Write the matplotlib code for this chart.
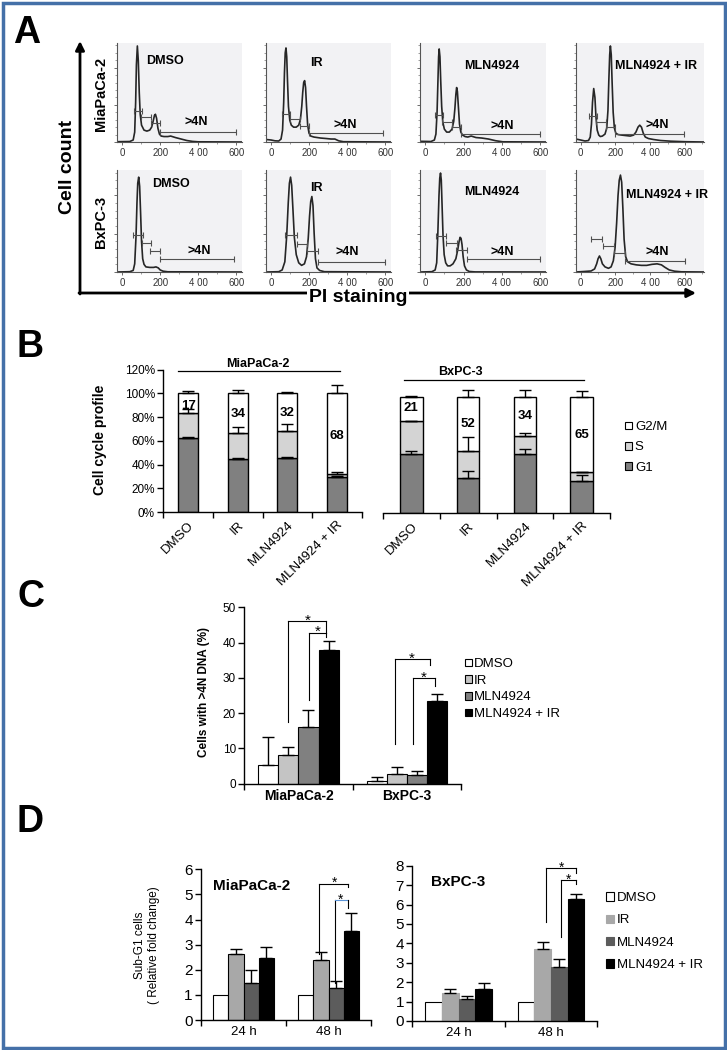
import numpy as np
import matplotlib
matplotlib.use("Agg")
import matplotlib.pyplot as plt
from matplotlib.patches import Patch, Rectangle
from matplotlib.ticker import MultipleLocator, FixedLocator

plt.rcParams['font.family'] = ['Liberation Sans', 'DejaVu Sans']

W, H = 727, 1050

# ---------------- A: PI histograms (count scaled 0-100) ----------------
treatments = ['DMSO', 'IR', 'MLN4924', 'MLN4924 + IR']
cell_lines = ['MiaPaCa-2', 'BxPC-3']
hist_ticks = [0, 200, 400, 600]
hist_ticklabels = ['0', '200', '4 00', '600']

mia_dmso_x = [-25, 40, 58, 66, 71, 75, 80, 85, 90, 95, 102, 115, 130, 145, 155, 163, 170, 175, 181, 188,
              196, 205, 220, 240, 255, 280, 310, 340, 370, 400, 630]
mia_dmso_y = [0.3, 0.5, 2, 10, 40, 78, 97, 82, 50, 28, 17, 12, 11, 12, 15, 21, 27, 28, 24, 14,
              8, 6, 5.5, 5.5, 6, 4.5, 3, 1.5, 0.6, 0.2, 0]
mia_ir_x = [-25, 0, 20, 40, 52, 60, 66, 70, 74, 78, 82, 86, 91, 98, 106, 118, 132, 145, 154, 161, 166,
            171, 176, 181, 186, 192, 199, 208, 225, 260, 290, 315, 335, 355, 380, 630]
mia_ir_y = [2.5, 2, 1.2, 1, 3, 12, 40, 70, 90, 95, 86, 62, 36, 22, 17, 15, 15, 17, 23, 36, 50,
            60, 62, 55, 36, 17, 9, 6, 5, 4, 3.5, 3, 3, 1.2, 0.3, 0]
mia_mln_x = [-25, 30, 48, 56, 62, 67, 70, 73, 77, 81, 86, 92, 100, 112, 126, 140, 149, 155, 160, 164,
             168, 173, 179, 186, 195, 208, 222, 240, 265, 295, 330, 367, 405, 630]
mia_mln_y = [0.7, 0.5, 2, 8, 30, 65, 86, 94, 86, 62, 36, 20, 13, 10, 10, 13, 21, 34, 48, 55,
             51, 36, 18, 10, 7, 5.5, 5, 6, 4.5, 4, 3, 1.3, 0.2, 0]
mia_combo_x = [-27, 0, 25, 45, 55, 62, 68, 75, 82, 88, 95, 104, 113, 125, 140, 150, 157, 162, 167, 171,
               176, 181, 187, 194, 202, 215, 235, 260, 285, 305, 318, 330, 340, 350, 360, 372, 390,
               420, 460, 520, 600, 710]
mia_combo_y = [3, 2, 1, 1.5, 5, 18, 40, 54, 45, 25, 12, 7, 5.5, 6, 8, 14, 32, 62, 88, 97,
               88, 60, 30, 14, 9, 7.5, 7, 6.5, 6, 7, 10, 15, 17, 15, 9, 5, 3.5,
               2.5, 1.5, 0.8, 0.3, 0]
bx_dmso_x = [-25, 40, 58, 66, 73, 78, 82, 87, 92, 97, 102, 108, 115, 125, 145, 165, 178, 190, 200, 215,
             240, 630]
bx_dmso_y = [0, 0.3, 1.5, 8, 35, 68, 87, 93, 84, 58, 30, 13, 7.5, 5, 4.5, 4.5, 5, 4, 2, 0.8,
             0.2, 0]
bx_ir_x = [-25, 40, 58, 72, 82, 90, 96, 102, 108, 115, 122, 132, 145, 160, 175, 186, 195, 202, 208, 214,
           220, 226, 233, 241, 255, 280, 630]
bx_ir_y = [0, 0.3, 2, 10, 36, 68, 87, 93, 85, 60, 34, 17, 9, 6.5, 8, 15, 33, 55, 69, 74,
           65, 38, 13, 4, 1.5, 0.3, 0]
bx_mln_x = [-25, 35, 52, 60, 66, 72, 76, 80, 84, 88, 93, 99, 107, 117, 130, 145, 160, 170, 177, 182,
            187, 192, 198, 205, 215, 230, 260, 630]
bx_mln_y = [0, 0.3, 2, 9, 38, 75, 92, 97, 90, 66, 36, 17, 9, 6, 6, 8, 13, 22, 30, 34,
            33, 27, 15, 6, 2, 0.5, 0.1, 0]
bx_combo_x = [-27, 20, 60, 80, 92, 100, 108, 116, 125, 140, 160, 175, 188, 198, 207, 215, 222, 229, 236,
              243, 250, 259, 270, 290, 320, 350, 380, 410, 440, 465, 485, 510, 540, 580, 710]
bx_combo_y = [0, 0.5, 1, 3, 8, 13, 15.7, 13, 8, 5, 3.6, 5, 11, 24, 48, 75, 90, 95, 88,
              62, 32, 15, 10, 8, 7, 6.5, 6.5, 7.5, 8, 7, 4.6, 2, 0.8, 0.2, 0]

# gates: (start, end, height) for G1, S, G2/M and >4N
mia_dmso_gates = [(61, 107, 31), (98, 152, 25), (152, 200, 19), (200, 598, 10.4)]
mia_ir_gates = [(56, 100, 28), (100, 150, 23), (150, 200, 16), (200, 590, 8.8)]
mia_mln_gates = [(51, 92, 27), (89, 142, 20.5), (138, 185, 15.5), (185, 600, 8)]
mia_combo_gates = [(46, 94, 26), (88, 146, 20), (146, 200, 15.5), (200, 594, 8)]
bx_dmso_gates = [(58, 108, 36), (103, 154, 28), (148, 199, 21), (199, 590, 13)]
bx_ir_gates = [(72, 138, 36), (138, 188, 27), (188, 246, 21), (246, 600, 10)]
bx_mln_gates = [(55, 109, 35), (109, 165, 28), (163, 217, 22), (217, 600, 12.5)]
bx_combo_gates = [(62, 123, 32), (127, 194, 25), (194, 258, 19), (258, 600, 11)]

hist_curves = {(0, 0): (mia_dmso_x, mia_dmso_y), (0, 1): (mia_ir_x, mia_ir_y),
               (0, 2): (mia_mln_x, mia_mln_y), (0, 3): (mia_combo_x, mia_combo_y),
               (1, 0): (bx_dmso_x, bx_dmso_y), (1, 1): (bx_ir_x, bx_ir_y),
               (1, 2): (bx_mln_x, bx_mln_y), (1, 3): (bx_combo_x, bx_combo_y)}
hist_gates = {(0, 0): mia_dmso_gates, (0, 1): mia_ir_gates, (0, 2): mia_mln_gates, (0, 3): mia_combo_gates,
              (1, 0): bx_dmso_gates, (1, 1): bx_ir_gates, (1, 2): bx_mln_gates, (1, 3): bx_combo_gates}

# ---------------- B: cell cycle profile (%) ----------------
b_groups = ['DMSO', 'IR', 'MLN4924', 'MLN4924 + IR']
mia_g1 = [62.2, 44.5, 45.4, 29.4]
mia_s = [21.0, 21.9, 22.9, 2.8]
mia_g2m = [16.8, 33.6, 31.7, 67.8]
mia_g1_err = [0.8, 1.2, 0.8, 1.4]
mia_s_err = [3.8, 5.6, 5.7, 1.7]
mia_g2m_err = [2.3, 3.1, 1.2, 7.3]
mia_g2m_text = ['17', '34', '32', '68']

bx_g1 = [50.4, 30.0, 50.4, 27.0]
bx_s = [27.2, 22.6, 14.6, 7.5]
bx_g2m = [20.9, 45.9, 33.5, 64.0]
bx_g1_err = [2.3, 5.8, 4.2, 5.0]
bx_s_err = [0.6, 11.8, 3.0, 0.6]
bx_g2m_err = [0.8, 5.5, 5.5, 4.5]
bx_g2m_text = ['21', '52', '34', '65']

# ---------------- C: cells with >4N DNA (%) ----------------
c_lines = ['MiaPaCa-2', 'BxPC-3']
c_dmso = [5.4, 0.75]
c_ir = [8.2, 2.8]
c_mln = [16.0, 2.5]
c_combo = [38.0, 23.4]
c_dmso_err = [7.8, 1.15]
c_ir_err = [2.2, 1.9]
c_mln_err = [4.8, 1.1]
c_combo_err = [2.4, 2.1]

# ---------------- D: sub-G1 cells (relative fold change) ----------------
d_times = ['24 h', '48 h']
d_mia_dmso = [1.0, 1.0]
d_mia_ir = [2.62, 2.38]
d_mia_mln = [1.47, 1.29]
d_mia_combo = [2.47, 3.55]
d_mia_ir_err = [0.21, 0.32]
d_mia_mln_err = [0.53, 0.28]
d_mia_combo_err = [0.43, 0.71]
d_bx_dmso = [1.0, 1.0]
d_bx_ir = [1.42, 3.69]
d_bx_mln = [1.13, 2.80]
d_bx_combo = [1.63, 6.27]
d_bx_ir_err = [0.21, 0.40]
d_bx_mln_err = [0.17, 0.38]
d_bx_combo_err = [0.31, 0.27]


def px_axes(fig, left, top, right, bottom):
    return fig.add_axes([left / W, 1 - bottom / H, (right - left) / W, (bottom - top) / H])


fig = plt.figure(figsize=(W / 100, H / 100), dpi=100)
ov = fig.add_axes([0, 0, 1, 1])
ov.set_xlim(0, W)
ov.set_ylim(H, 0)
ov.axis('off')
ov.add_patch(Rectangle((2.5, 2.5), W - 5, H - 5, fill=False, edgecolor='#4470a8', lw=2.5))

for letter, (lx, ly) in zip('ABCD', [(27, 33), (30, 347), (31, 597), (30, 822)]):
    ov.text(lx, ly, letter, fontsize=27, fontweight='bold', ha='center', va='center')

# ---- panel A ----
ov.annotate('', xy=(80, 41), xytext=(80, 294),
            arrowprops=dict(arrowstyle='-|>', lw=2, color='black', mutation_scale=13, shrinkA=0, shrinkB=0))
ov.annotate('', xy=(696, 293), xytext=(79, 293),
            arrowprops=dict(arrowstyle='-|>', lw=2, color='black', mutation_scale=13, shrinkA=0, shrinkB=0))
ov.text(67, 167, 'Cell count', rotation=90, fontsize=14, fontweight='bold', ha='center', va='center')
ov.text(358, 297, 'PI staining', fontsize=14, fontweight='bold', ha='center', va='center', zorder=5,
        bbox=dict(facecolor='white', edgecolor='none', pad=1.5))
ov.text(101, 94, cell_lines[0], rotation=90, fontsize=10.5, fontweight='bold', ha='center', va='center')
ov.text(101, 222, cell_lines[1], rotation=90, fontsize=10.5, fontweight='bold', ha='center', va='center')

hist_cols = [(117, 242), (266, 391), (420, 546), (576, 704)]
hist_rows = [(43, 142), (170, 272)]
title_xy = {(0, 0): (225, 82), (0, 1): (240, 80), (0, 2): (345, 77), (0, 3): (435, 77),
            (1, 0): (258, 86), (1, 1): (236, 82), (1, 2): (345, 78), (1, 3): (495, 75)}
n4_xy = {(0, 0): (388, 20), (0, 1): (391, 17), (0, 2): (400, 16), (0, 3): (440, 17),
         (1, 0): (406, 21), (1, 1): (402, 20), (1, 2): (404, 20), (1, 3): (440, 20)}

for r in range(2):
    for c in range(4):
        key = (r, c)
        ax = px_axes(fig, hist_cols[c][0], hist_rows[r][0], hist_cols[c][1], hist_rows[r][1])
        ax.set_facecolor('#f2f2f4')
        xs, ys = hist_curves[key]
        ax.plot(xs, ys, color='#262626', lw=1.2)
        for x0, x1, yg in hist_gates[key]:
            ax.errorbar((x0 + x1) / 2, yg, xerr=(x1 - x0) / 2, color='#505050', lw=0.8,
                        capsize=2, capthick=0.8)
        ax.text(*title_xy[key], treatments[c], fontsize=9, fontweight='bold', ha='center', va='center')
        ax.text(*n4_xy[key], '>4N', fontsize=9, fontweight='bold', ha='center', va='center')
        ax.set_xlim(-27, 710 if c == 3 else 630)
        ax.set_ylim(0, 100)
        for side in ('top', 'right'):
            ax.spines[side].set_visible(False)
        for side in ('left', 'bottom'):
            ax.spines[side].set_color('#555555')
            ax.spines[side].set_linewidth(0.8)
        ax.set_xticks(hist_ticks, hist_ticklabels, fontsize=7, color='#333333')
        ax.xaxis.set_minor_locator(MultipleLocator(100))
        ax.set_yticks([0, 37.5, 75], [])
        ax.yaxis.set_minor_locator(MultipleLocator(7.5))
        ax.tick_params(axis='both', which='major', length=2.5, width=0.6, color='#555555', pad=1.5)
        ax.tick_params(axis='both', which='minor', length=1.3, width=0.5, color='#777777')

# ---- panel B ----
G1_C, S_C = '#808080', '#d4d4d4'


def draw_cycle(ax, g1, s, g2m, g1_err, s_err, g2m_err, texts, text_y):
    x = np.arange(len(b_groups))
    s_bottom = np.array(g1)
    g2_bottom = s_bottom + np.array(s)
    top = g2_bottom + np.array(g2m)
    kw = dict(width=0.4, edgecolor='black', linewidth=1.0, zorder=2)
    ax.bar(x, g1, color=G1_C, **kw)
    ax.bar(x, s, bottom=s_bottom, color=S_C, **kw)
    ax.bar(x, g2m, bottom=g2_bottom, color='white', **kw)
    zeros = np.zeros(len(x))
    for y, e in ((s_bottom, g1_err), (g2_bottom, s_err), (top, g2m_err)):
        ax.errorbar(x, y, yerr=[zeros, e], fmt='none', ecolor='black', elinewidth=1.0,
                    capsize=4, capthick=1.0, zorder=3)
    for xi, t, ty in zip(x, texts, text_y):
        ax.text(xi, ty, t, fontsize=9.5, fontweight='bold', ha='center', va='center', zorder=4)
    ax.set_facecolor('none')
    ax.set_xlim(-0.5, 3.5)
    ax.set_ylim(0, 120)
    ax.set_xticks(x, b_groups, rotation=45, ha='right', rotation_mode='anchor', fontsize=9.5)
    ax.xaxis.set_minor_locator(FixedLocator([-0.5, 0.5, 1.5, 2.5, 3.5]))
    ax.tick_params(axis='x', which='major', length=0, pad=5)
    ax.tick_params(axis='x', which='minor', length=4, width=1)
    for side in ('top', 'right'):
        ax.spines[side].set_visible(False)
    ax.spines['bottom'].set_linewidth(1.0)


axb1 = px_axes(fig, 163.3, 369.5, 361.7, 512.3)
draw_cycle(axb1, mia_g1, mia_s, mia_g2m, mia_g1_err, mia_s_err, mia_g2m_err,
           mia_g2m_text, [89.4, 82.6, 83.8, 64])
axb1.set_yticks(np.arange(0, 121, 20), [f'{v}%' for v in range(0, 121, 20)], fontsize=8.5)
axb1.tick_params(axis='y', length=4, width=1, pad=2)
axb1.spines['left'].set_linewidth(1.0)
axb1.plot([-0.2, 3.06], [119, 119], color='black', lw=0.9, clip_on=False)
axb1.text(1.41, 124.6, cell_lines[0], fontsize=9, fontweight='bold', ha='center', va='center')

axb2 = px_axes(fig, 383, 371.3, 610, 513.3)
draw_cycle(axb2, bx_g1, bx_s, bx_g2m, bx_g1_err, bx_s_err, bx_g2m_err,
           bx_g2m_text, [88.7, 75.5, 82, 66])
axb2.spines['left'].set_visible(False)
axb2.set_yticks([])
axb2.plot([-0.13, 3.05], [112.9, 112.9], color='black', lw=0.9, clip_on=False)
axb2.text(0.87, 119.8, cell_lines[1], fontsize=9, fontweight='bold', ha='center', va='center')
axb2.legend(handles=[Patch(facecolor=fc, edgecolor='black', linewidth=0.8, label=lb)
                     for fc, lb in (('white', 'G2/M'), (S_C, 'S'), (G1_C, 'G1'))],
            loc='upper left', bbox_to_anchor=(625 / W, 1 - 421 / H), bbox_transform=fig.transFigure,
            frameon=False, fontsize=9.5, handlelength=0.5, handleheight=0.5, handletextpad=0.25,
            labelspacing=0.64, borderpad=0, borderaxespad=0)
ov.text(100, 440, 'Cell cycle profile', rotation=90, fontsize=10, fontweight='bold', ha='center', va='center')


# ---- grouped bar helper for C and D ----
def grouped(ax, series, errors, colors, edges, bw):
    x = np.arange(2)
    for k, (vals, errs, fc, ec) in enumerate(zip(series, errors, colors, edges)):
        pos = x + (k - 1.5) * bw
        ax.bar(pos, vals, width=bw, color=fc, edgecolor=ec, linewidth=0.8, zorder=2)
        errs = np.array(errs)
        m = errs > 0
        if m.any():
            ax.errorbar(pos[m], np.array(vals)[m], yerr=[np.zeros(m.sum()), errs[m]], fmt='none',
                        ecolor='black', elinewidth=1.0, capsize=4, capthick=1.0, zorder=3)
    ax.set_facecolor('none')
    ax.set_xlim(-0.5, 1.5)
    ax.xaxis.set_minor_locator(FixedLocator([-0.5, 0.5, 1.5]))
    ax.tick_params(axis='x', which='major', length=0, pad=4)
    ax.tick_params(axis='x', which='minor', length=4, width=1)
    ax.tick_params(axis='y', length=4, width=1, pad=2)
    for side in ('top', 'right'):
        ax.spines[side].set_visible(False)
    for side in ('left', 'bottom'):
        ax.spines[side].set_linewidth(1.0)


def brackets(ax, items, star_size, hcolors=None):
    for i, (xl, xr, yl, yt, yr, sx, sy) in enumerate(items):
        hc = hcolors[i] if hcolors else 'black'
        ax.plot([xl, xl], [yl, yt], color='black', lw=0.8, clip_on=False, zorder=4)
        ax.plot([xl, xr], [yt, yt], color=hc, lw=0.8, clip_on=False, zorder=4)
        ax.plot([xr, xr], [yt, yr], color='black', lw=0.8, clip_on=False, zorder=4)
        ax.text(sx, sy, '*', fontsize=star_size, ha='center', va='center', clip_on=False, zorder=4)


# ---- panel C ----
c_colors = ['white', '#c4c4c4', '#808080', 'black']
axc = px_axes(fig, 244.3, 607.2, 461, 783.8)
grouped(axc, [c_dmso, c_ir, c_mln, c_combo], [c_dmso_err, c_ir_err, c_mln_err, c_combo_err],
        c_colors, ['black'] * 4, 0.185)
axc.set_ylim(0, 50)
axc.set_yticks(range(0, 51, 10))
axc.tick_params(axis='y', labelsize=8.5)
axc.set_xticks([0, 1], c_lines, fontsize=10, fontweight='bold')
brackets(axc, [(-0.096, 0.255, 17.5, 46.2, 42.7, 0.081, 46.2),
               (0.096, 0.255, 23.6, 42.7, 41.5, 0.174, 42.9),
               (0.889, 1.21, 11.3, 35.4, 33.5, 1.045, 35.5),
               (1.054, 1.264, 11.3, 30.0, 27.8, 1.153, 30.1)], 11)
axc.legend(handles=[Patch(facecolor=fc, edgecolor='black', linewidth=0.8, label=lb)
                    for fc, lb in zip(c_colors, treatments)],
           loc='upper left', bbox_to_anchor=(465 / W, 1 - 658 / H), bbox_transform=fig.transFigure,
           frameon=False, fontsize=9.5, handlelength=0.5, handleheight=0.5, handletextpad=0.2,
           labelspacing=0.36, borderpad=0, borderaxespad=0)
ov.text(204, 692, 'Cells with >4N DNA (%)', rotation=90, fontsize=8.5, fontweight='bold',
        ha='center', va='center')

# ---- panel D ----
d_colors = ['white', '#a8a8a8', '#5c5c5c', 'black']
axd1 = px_axes(fig, 201, 869.3, 371, 1020)
grouped(axd1, [d_mia_dmso, d_mia_ir, d_mia_mln, d_mia_combo],
        [[0, 0], d_mia_ir_err, d_mia_mln_err, d_mia_combo_err], d_colors, ['black'] * 4, 0.18)
axd1.set_ylim(0, 6)
axd1.set_yticks(range(0, 7))
axd1.tick_params(axis='y', labelsize=11)
axd1.set_xticks([0, 1], d_times, fontsize=9.5)
brackets(axd1, [(0.89, 1.235, 2.63, 5.42, 5.29, 1.067, 5.45),
                (1.08, 1.227, 1.46, 4.78, 4.45, 1.145, 4.8)], 10, hcolors=['black', '#5b93d6'])
axd1.text(0.1, 5.35, cell_lines[0], fontsize=11, fontweight='bold', ha='center', va='center')

axd2 = px_axes(fig, 412.3, 865.7, 597.3, 1021)
grouped(axd2, [d_bx_dmso, d_bx_ir, d_bx_mln, d_bx_combo],
        [[0, 0], d_bx_ir_err, d_bx_mln_err, d_bx_combo_err], d_colors,
        ['black', '#a8a8a8', '#5c5c5c', 'black'], 0.18)
axd2.set_ylim(0, 8)
axd2.set_yticks(range(0, 9))
axd2.tick_params(axis='y', labelsize=11)
axd2.set_xticks([0, 1], d_times, fontsize=9.5)
brackets(axd2, [(0.944, 1.267, 5.12, 7.86, 7.6, 1.109, 7.9),
                (1.109, 1.267, 4.31, 7.26, 7.06, 1.188, 7.3)], 10)
axd2.text(0.0, 7.15, cell_lines[1], fontsize=11, fontweight='bold', ha='center', va='center')
axd2.legend(handles=[Patch(facecolor=fc, edgecolor=ec, linewidth=0.8, label=lb)
                     for fc, ec, lb in zip(d_colors, ['black', '#a8a8a8', '#5c5c5c', 'black'], treatments)],
            loc='upper left', bbox_to_anchor=(606 / W, 1 - 892 / H), bbox_transform=fig.transFigure,
            frameon=False, fontsize=9.5, handlelength=0.6, handleheight=0.6, handletextpad=0.2,
            labelspacing=0.79, borderpad=0, borderaxespad=0)
ov.text(147, 945, 'Sub-G1 cells\n( Relative fold change)', rotation=90, fontsize=8.5,
        ha='center', va='center', multialignment='center')

fig.savefig('out.png', dpi=100)
